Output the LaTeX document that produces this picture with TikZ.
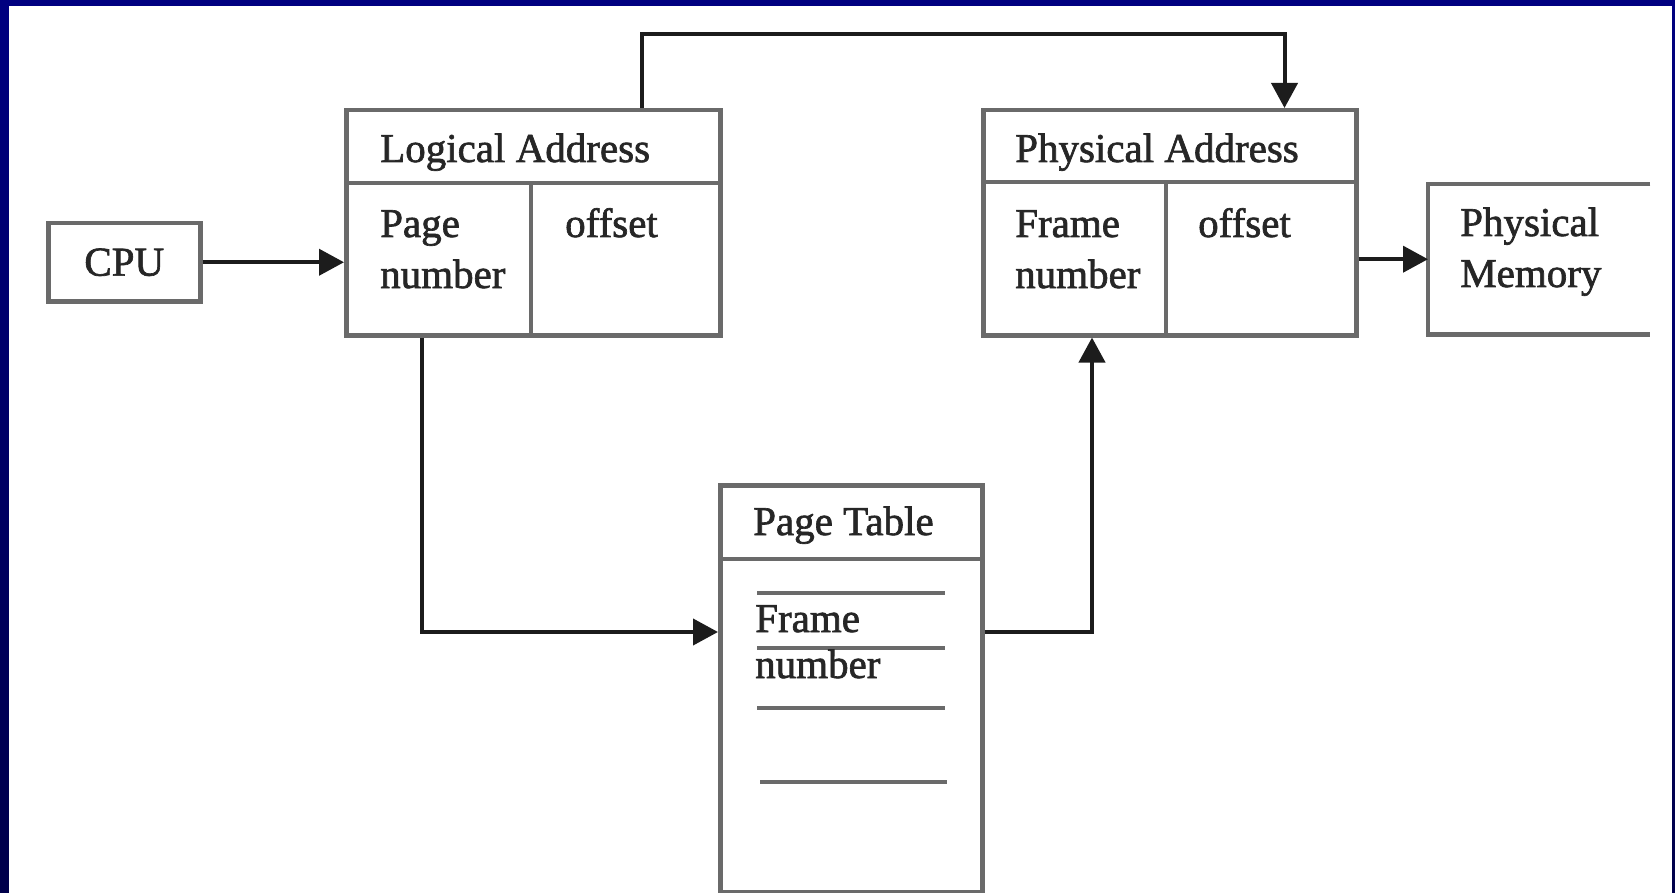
\documentclass[tikz,border=0pt]{standalone}
\usepackage{fontspec}
\setmainfont{Liberation Serif}[BoldFont=Liberation Serif, BoldFeatures={FakeBold=1.6}]
\usetikzlibrary{arrows.meta}
\definecolor{navytop}{HTML}{000080}
\definecolor{navybot}{HTML}{00004A}
\definecolor{boxline}{HTML}{6A6A6A}
\definecolor{arrline}{HTML}{1C1C1C}
\definecolor{txtcol}{HTML}{262626}
\tikzset{
 box/.style={draw=boxline, line width=4.5pt, rectangle, inner sep=0pt, anchor=north west},
 divider/.style={draw=boxline, line width=4.5pt},
 arr/.style={draw=arrline, line width=4pt, -{Triangle[length=25pt,width=26pt]}},
 lbl/.style={text=txtcol, font=\fontsize{41}{49}\selectfont\bfseries, inner sep=0pt, anchor=base west},
 rowline/.style={draw=boxline, line width=4pt},
}
\begin{document}
\begin{tikzpicture}[x=1pt,y=-1pt]
\useasboundingbox (0,0) rectangle (1675,893);
\shade[top color=navytop, bottom color=navybot] (0,0) rectangle (1675,893);
\fill[white] (9,6) rectangle (1672,893);

% boxes
\node[box, minimum width=152pt, minimum height=78pt, text=txtcol, font=\fontsize{41}{49}\selectfont\bfseries] (cpu) at (46,221) {CPU};
\node[box, minimum width=374pt, minimum height=225pt] (la) at (344,108) {};
\node[box, minimum width=373pt, minimum height=225pt] (pa) at (981,108) {};
\node[inner sep=0pt, anchor=north west, minimum width=222pt, minimum height=150pt] (pm) at (1428,184) {};
\node[box, minimum width=262pt, minimum height=407pt] (pt) at (718,483) {};

% dividers
\draw[divider] ([yshift=-75pt]la.north west) -- ([yshift=-75pt]la.north east);
\draw[divider] ([xshift=187pt,yshift=-75pt]la.north west) -- ([xshift=187pt]la.south west);
\draw[divider] ([yshift=-74pt]pa.north west) -- ([yshift=-74pt]pa.north east);
\draw[divider] ([xshift=185pt,yshift=-74pt]pa.north west) -- ([xshift=185pt]pa.south west);
\draw[divider] (pm.north east) -- (pm.north west) -- (pm.south west) -- (pm.south east);
\draw[divider] ([yshift=-76pt]pt.north west) -- ([yshift=-76pt]pt.north east);

% page table rows
\draw[rowline] ([xshift=39pt,yshift=-110pt]pt.north west) -- ([xshift=227pt,yshift=-110pt]pt.north west);
\draw[rowline] ([xshift=39pt,yshift=-165pt]pt.north west) -- ([xshift=227pt,yshift=-165pt]pt.north west);
\draw[rowline] ([xshift=39pt,yshift=-225pt]pt.north west) -- ([xshift=227pt,yshift=-225pt]pt.north west);
\draw[rowline] ([xshift=42pt,yshift=-299pt]pt.north west) -- ([xshift=229pt,yshift=-299pt]pt.north west);

% labels
\node[lbl] (latitle) at (380,162) {Logical Address};
\node[lbl] (lapage) at (380,237) {Page};
\node[lbl] (lanum) at (380,288) {number};
\node[lbl] (laoff) at (565,237) {offset};
\node[lbl] (patitle) at (1015,162) {Physical Address};
\node[lbl] (paframe) at (1015,237) {Frame};
\node[lbl] (panum) at (1015,288) {number};
\node[lbl] (paoff) at (1198,237) {offset};
\node[lbl] (pmone) at (1460,236) {Physical};
\node[lbl] (pmtwo) at (1460,287) {Memory};
\node[lbl] (pttitle) at (753,535) {Page Table};
\node[lbl] (ptframe) at (755,632) {Frame};
\node[lbl] (ptnum) at (755,678) {number};

% connectors
\draw[arr] (cpu.east) -- (cpu.east -| la.west);
\draw[arr] ([xshift=298pt]la.north west) -- ++(0,-74) -| ([xshift=-74pt]pa.north east);
\draw[arr] ([xshift=78pt]la.south west) |- ([yshift=-149pt]pt.north west);
\draw[arr] ([yshift=-149pt]pt.north east) -| ([xshift=111pt]pa.south west);
\draw[arr] (pa.east |- pm.west) -- (pm.west);
\end{tikzpicture}
\end{document}
